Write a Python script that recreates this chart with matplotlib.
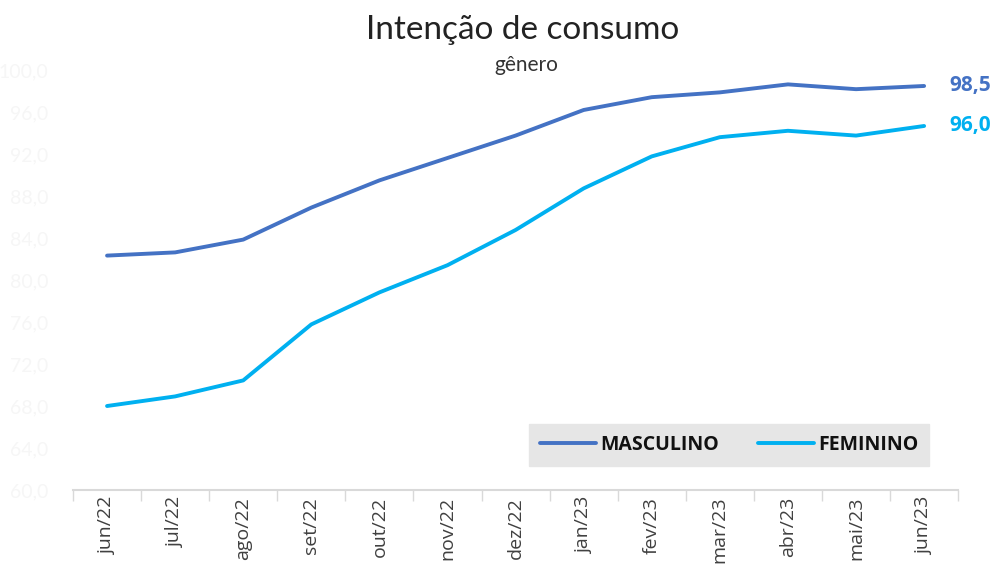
import numpy as np
import matplotlib.pyplot as plt

# --- dados ---
meses = ["jun/22", "jul/22", "ago/22", "set/22", "out/22", "nov/22", "dez/22",
         "jan/23", "fev/23", "mar/23", "abr/23", "mai/23", "jun/23"]
masculino = [87.9, 88.1, 88.9, 90.9, 92.6, 94.0, 95.4, 97.0, 97.8, 98.1, 98.6, 98.3, 98.5]
feminino = [78.5, 79.1, 80.1, 83.6, 85.6, 87.3, 89.5, 92.1, 94.1, 95.3, 95.7, 95.4, 96.0]
eixo_esq = [60, 64, 68, 72, 76, 80, 84, 88, 92, 96, 100]

COR_MASC = "#4472C4"
COR_FEM = "#00B0F0"

plt.rcParams['font.family'] = ['Lato', 'DejaVu Sans']

fig = plt.figure(figsize=(9.96, 5.68), dpi=100)
ax = fig.add_axes([0.0733, 0.1373, 0.8887, 0.7395])

# eixo principal (quase invisível, como no original)
ax.set_ylim(60, 100)
ax.set_yticks(eixo_esq)
ax.set_yticklabels([f"{v:.1f}".replace(".", ",") for v in eixo_esq],
                   color="#f6f6f6", fontsize=14)
ax.tick_params(axis="y", length=0, pad=18)

x = np.arange(len(meses))
ax.set_xlim(-0.5, len(meses) - 0.5)
ax.set_xticks(np.arange(-0.5, len(meses), 1))
ax.set_xticklabels([])
ax.tick_params(axis="x", which="major", length=8, color="#d9d9d9", width=1)
ax.set_xticks(x, minor=True)
ax.set_xticklabels(meses, minor=True, rotation=90, fontsize=14, color="#404040",
                   family=['Open Sans', 'DejaVu Sans'])
ax.tick_params(axis="x", which="minor", length=0, pad=5)

for s in ["top", "right", "left"]:
    ax.spines[s].set_visible(False)
ax.spines["bottom"].set_color("#d9d9d9")
ax.spines["bottom"].set_linewidth(1.5)

# eixo secundário com as séries
ax2 = ax.twinx()
ax2.set_ylim(73.25, 99.5)
ax2.set_yticks([])
for s in ax2.spines.values():
    s.set_visible(False)

l1, = ax2.plot(x, masculino, color=COR_MASC, lw=2.8, solid_capstyle="round",
               label="MASCULINO")
l2, = ax2.plot(x, feminino, color=COR_FEM, lw=2.8, solid_capstyle="round",
               label="FEMININO")

rotulo = dict(xytext=(18, 0), textcoords="offset points", va="center",
              fontsize=15, fontweight="bold", annotation_clip=False,
              family=['Open Sans', 'DejaVu Sans'])
ax2.annotate(f"{masculino[-1]:.1f}".replace(".", ","), (x[-1], masculino[-1]),
             color=COR_MASC, **rotulo)
ax2.annotate(f"{feminino[-1]:.1f}".replace(".", ","), (x[-1], feminino[-1]),
             color=COR_FEM, **rotulo)

leg = ax2.legend(handles=[l1, l2], ncol=2, loc="center",
                 bbox_to_anchor=(0.741, 0.107), frameon=True, fancybox=False,
                 facecolor="#e6e6e6", edgecolor="#e6e6e6", framealpha=1,
                 handlelength=2.9, handletextpad=0.2, columnspacing=2.0,
                 borderpad=0.55,
                 prop={"weight": "bold", "size": 14, "family": ['Open Sans', 'DejaVu Sans']})
for t in leg.get_texts():
    t.set_color("#111111")

fig.text(0.525, 0.947, "Intenção de consumo", ha="center", va="center",
         fontsize=24, color="#222222")
fig.text(0.528, 0.886, "gênero", ha="center", va="center",
         fontsize=15, color="#333333")

fig.savefig("out.png", dpi=100, facecolor="white")
